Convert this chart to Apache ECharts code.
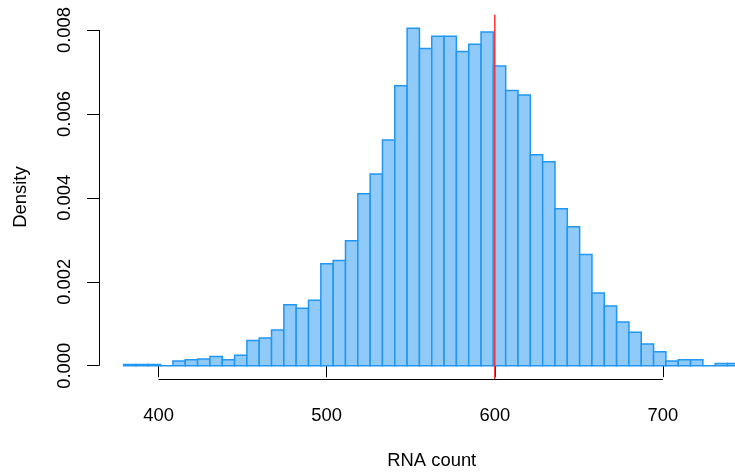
<!DOCTYPE html>
<html>
<head>
<meta charset="UTF-8">
<title>RNA count histogram</title>
<script src="https://cdn.jsdelivr.net/npm/echarts@6/dist/echarts.min.js"></script>
<style>
  html, body { margin: 0; padding: 0; background: #fff; }
  #main { width: 735px; height: 472px; }
</style>
</head>
<body>
<div id="main"></div>
<script>
// histogram breaks (50 equal bins between min and max of the sample)
var breakMin = 379.25;
var breakMax = 745.75;
// density of each bin
var density = [
  0.000027, 0.000027, 0.000027, 0, 0.00011, 0.00014, 0.00016, 0.00022, 0.00014, 0.00025,
  0.00060, 0.00066, 0.00085, 0.00145, 0.00137, 0.00156, 0.00243, 0.00251, 0.00298, 0.00410,
  0.00457, 0.00538, 0.00667, 0.00804, 0.00756, 0.00785, 0.00785, 0.00749, 0.00766, 0.00795,
  0.00714, 0.00656, 0.00645, 0.00503, 0.00486, 0.00374, 0.00331, 0.00265, 0.00173, 0.00142,
  0.00104, 0.00080, 0.00052, 0.00033, 0.00011, 0.00014, 0.00014, 0, 0.000055, 0.000055
];
var xTicks = [400, 500, 600, 700];
var yTicks = [0, 0.002, 0.004, 0.006, 0.008];
var refLine = 600;

var binW = (breakMax - breakMin) / density.length;
var bins = density.map(function (d, i) {
  return [breakMin + i * binW, breakMin + (i + 1) * binW, d];
});

// R style 4% padding of the plotting region; its right end lies past the image edge
var xPad = (breakMax - breakMin) * 0.04;
var xMin = breakMin - xPad;
var xMax = breakMax + xPad;
var yMax = Math.max.apply(null, density);
var font = '"Liberation Sans", Arial, sans-serif';

function crisp(v) { return Math.round(v) + 0.5; }

var myChart = echarts.init(document.getElementById('main'));
myChart.setOption({
  animation: false,
  grid: { left: 99, right: -29.5, top: 14.85, bottom: 92.8, outerBoundsMode: 'none', containLabel: false },
  xAxis: {
    type: 'value',
    min: xMin,
    max: xMax,
    name: 'RNA count',
    nameLocation: 'middle',
    nameGap: 73,
    nameTextStyle: { fontFamily: font, fontSize: 18.4, color: '#000' },
    axisLine: { show: false },
    splitLine: { show: false },
    axisTick: { show: true, length: 11.5, customValues: xTicks, lineStyle: { color: '#000', width: 1 } },
    axisLabel: { customValues: xTicks, margin: 28, fontFamily: font, fontSize: 18.4, color: '#000' }
  },
  yAxis: {
    type: 'value',
    min: -yMax * 0.04,
    max: yMax * 1.04,
    name: 'Density',
    nameLocation: 'middle',
    nameGap: 69,
    nameRotate: 90,
    nameTextStyle: { fontFamily: font, fontSize: 18.4, color: '#000' },
    axisLine: { show: false },
    splitLine: { show: false },
    axisTick: { show: true, length: 12, customValues: yTicks, lineStyle: { color: '#000', width: 1 } },
    axisLabel: {
      customValues: yTicks, rotate: 90, margin: 25,
      fontFamily: font, fontSize: 18.4, color: '#000',
      formatter: function (v) { return v.toFixed(3); }
    }
  },
  series: [
    {
      type: 'custom',
      name: 'hist',
      clip: true,
      data: bins,
      renderItem: function (params, api) {
        var p0 = api.coord([api.value(0), api.value(2)]);
        var p1 = api.coord([api.value(1), 0]);
        return {
          type: 'rect',
          shape: { x: p0[0], y: p0[1], width: p1[0] - p0[0], height: p1[1] - p0[1] },
          style: { fill: '#90CAF9', stroke: '#2196F3', lineWidth: 1.5 }
        };
      }
    },
    {
      type: 'custom',
      name: 'ref',
      data: [[refLine]],
      renderItem: function (params, api) {
        var top = api.coord([api.value(0), yMax * 1.04]);
        var bot = api.coord([api.value(0), -yMax * 0.04]);
        return {
          type: 'line',
          shape: { x1: top[0], y1: top[1], x2: bot[0], y2: bot[1] },
          style: { stroke: '#FF3030', lineWidth: 1.5 }
        };
      }
    },
    {
      // axis lines span first to last tick only, as in R
      type: 'custom',
      name: 'axes',
      clip: false,
      data: [[0]],
      renderItem: function (params, api) {
        var yb = -yMax * 0.04;
        var a = api.coord([xTicks[0], yb]);
        var b = api.coord([xTicks[xTicks.length - 1], yb]);
        var c = api.coord([xMin, yTicks[0]]);
        var d = api.coord([xMin, yTicks[yTicks.length - 1]]);
        var yl = crisp(a[1]);
        var xl = crisp(c[0]);
        return {
          type: 'group',
          children: [
            { type: 'line', shape: { x1: a[0], y1: yl, x2: b[0], y2: yl }, style: { stroke: '#000', lineWidth: 1 } },
            { type: 'line', shape: { x1: xl, y1: c[1], x2: xl, y2: d[1] }, style: { stroke: '#000', lineWidth: 1 } }
          ]
        };
      }
    }
  ]
});
</script>
</body>
</html>
